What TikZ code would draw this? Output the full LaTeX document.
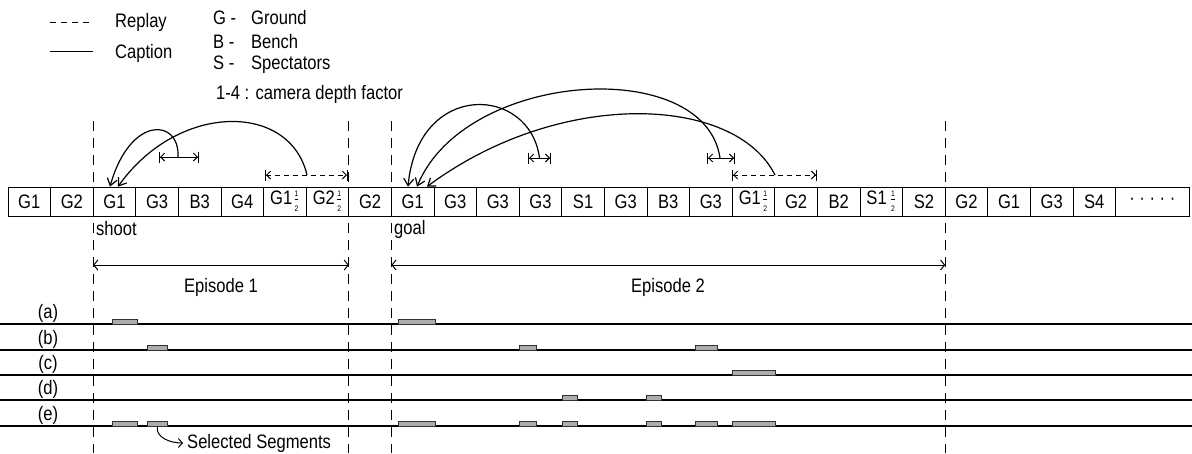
\documentclass[tikz,border=0pt]{standalone}
\usepackage{fontspec}
\setmainfont{Liberation Sans}[FakeStretch=0.85]
\usetikzlibrary{arrows.meta}
\newcommand{\hf}{\hspace{1.2pt}\ensuremath{\frac{\mbox{\fontsize{8}{8}\selectfont 1}}{\mbox{\fontsize{8}{8}\selectfont 2}}}}
\begin{document}
\begin{tikzpicture}[x=1pt,y=1pt,
  every node/.style={font=\fontsize{19.5}{22}\selectfont, inner sep=0pt},
  cell/.style={draw, line width=0.7pt, minimum width=42.6pt, minimum height=29pt},
  vdl/.style={line width=0.9pt, dash pattern=on 10pt off 7pt},
  trk/.style={line width=1.2pt},
  seg/.style={draw=black!80, fill=gray!65, line width=0.5pt, minimum height=5pt, anchor=south west},
  jump/.style={line width=1.2pt, -{Straight Barb[length=7pt,width=10pt,line width=1.2pt]}},
  sspan/.style={line width=1pt, {Bar[width=11pt]Straight Barb[length=4pt,width=8pt]}-{Straight Barb[length=4pt,width=8pt]Bar[width=11pt]}},
  rspan/.style={sspan, dash pattern=on 5pt off 4pt},
  epi/.style={line width=1pt, {Straight Barb[length=4pt,width=10pt]}-{Straight Barb[length=4pt,width=10pt]}},
]
\useasboundingbox (0,0) rectangle (1192,-453);

% legend
\coordinate (rp1) at (50,-22); \coordinate (rp2) at (92,-22);
\draw[line width=0.8pt, dash pattern=on 6pt off 5pt] (rp1) -- (rp2);
\node[anchor=west] (replay) at (115,-22) {Replay};
\coordinate (cp1) at (50,-51); \coordinate (cp2) at (93,-51);
\draw[line width=0.8pt] (cp1) -- (cp2);
\node[anchor=west] (caption) at (115,-53) {Caption};
\node[anchor=west] (lg) at (213,-18) {\makebox[38pt][l]{G -}Ground};
\node[anchor=west] (lb) at (213,-42) {\makebox[38pt][l]{B -}Bench};
\node[anchor=west] (ls) at (213,-65) {\makebox[38pt][l]{S -}Spectators};
\node[anchor=west] (ld) at (216,-94) {1-4 : camera depth factor};

% shot strip
\foreach \lab [count=\i from 0] in {G1,G2,G1,G3,B3,G4,G1\hf,G2\hf,G2,G1,G3,G3,G3,S1,G3,B3,G3,G1\hf,G2,B2,S1\hspace{2pt}\hf,S2,G2,G1,G3,S4}
  \node[cell] (c\i) at ({29.3+42.6*\i},-201.5) {\lab};
\node[cell, minimum width=73.4pt] (c26) at (1152.3,-201.5) {· · · · ·};

% vertical dashed lines
\foreach \x/\n in {93.2/A,348.8/B,391.4/C,945.2/D} {
  \coordinate (\n t) at (\x,-121);
  \coordinate (\n b) at (\x,-453);
  \draw[vdl] (\n t) -- (\n b);
}

% episode 1 arcs
\coordinate (s1l) at (159,-157); \coordinate (s1r) at (199,-157); \coordinate (s1m) at (178,-157);
\draw[sspan] (s1l) -- (s1r);
\draw[jump] (s1m) .. controls (180,-118) and (130,-115) .. ([xshift=-4.5pt]c2.north);
\coordinate (d1l) at (265,-175); \coordinate (d1r) at (348,-175); \coordinate (d1m) at (307,-175);
\draw[rspan] (d1l) -- (d1r);
\draw[jump] (d1m) .. controls (290,-102) and (178,-102) .. ([xshift=3.5pt]c2.north);

% episode 2 arcs
\coordinate (s2l) at (528,-158); \coordinate (s2r) at (551,-158); \coordinate (s2m) at (539.5,-158);
\draw[sspan] (s2l) -- (s2r);
\draw[jump] (s2m) .. controls (530,-85) and (418,-80) .. ([xshift=-4.7pt]c9.north);
\coordinate (s3l) at (707,-158); \coordinate (s3r) at (735,-158); \coordinate (s3m) at (720,-158);
\draw[sspan] (s3l) -- (s3r);
\draw[jump] (s3m) .. controls (705,-55) and (465,-70) .. ([xshift=4.3pt]c9.north);
\coordinate (d2l) at (732,-175); \coordinate (d2r) at (817,-175); \coordinate (d2m) at (775,-175);
\draw[rspan] (d2l) -- (d2r);
\draw[jump] (d2m) .. controls (735,-95) and (560,-88) .. ([xshift=14.3pt]c9.north);

% labels under strip
\node[anchor=west] (shoot) at (96,-229) {shoot};
\node[anchor=west] (goal) at (394,-229) {goal};
\coordinate (e1l) at (93.2,-265); \coordinate (e1r) at (348.8,-265);
\draw[epi] (e1l) -- (e1r);
\node (ep1) at (221,-287) {Episode 1};
\coordinate (e2l) at (391.4,-265); \coordinate (e2r) at (945.2,-265);
\draw[epi] (e2l) -- (e2r);
\node (ep2) at (668,-287) {Episode 2};

% tracks
\foreach \y/\l in {324/a,350/b,375/c,400/d,426/e} {
  \coordinate (L\l) at (0,-\y); \coordinate (R\l) at (1192,-\y);
  \draw[trk] (L\l) -- (R\l);
  \node (lab\l) at (48,-\y+11) {(\l)};
}
% selected segments
\node[seg, minimum width=25pt] (a1) at (112,-324) {};
\node[seg, minimum width=37pt] (a2) at (398,-324) {};
\node[seg, minimum width=20pt] (b1) at (147,-350) {};
\node[seg, minimum width=17pt] (b2) at (519,-350) {};
\node[seg, minimum width=22pt] (b3) at (695,-350) {};
\node[seg, minimum width=43pt] (cc1) at (732,-375) {};
\node[seg, minimum width=15pt] (d1) at (562,-400) {};
\node[seg, minimum width=15pt] (d2) at (646,-400) {};
\node[seg, minimum width=25pt] (e1) at (112,-426) {};
\node[seg, minimum width=20pt] (e2) at (147,-426) {};
\node[seg, minimum width=37pt] (e3) at (398,-426) {};
\node[seg, minimum width=17pt] (e4) at (519,-426) {};
\node[seg, minimum width=15pt] (e5) at (562,-426) {};
\node[seg, minimum width=15pt] (e6) at (646,-426) {};
\node[seg, minimum width=22pt] (e7) at (695,-426) {};
\node[seg, minimum width=43pt] (e8) at (732,-426) {};

\node[anchor=west] (sel) at (187,-443) {Selected Segments};
\draw[line width=1pt, -{Straight Barb[length=4pt,width=9pt]}] (e2.south) to[out=-100, in=180] ([xshift=-4pt]sel.west);
\end{tikzpicture}
\end{document}
